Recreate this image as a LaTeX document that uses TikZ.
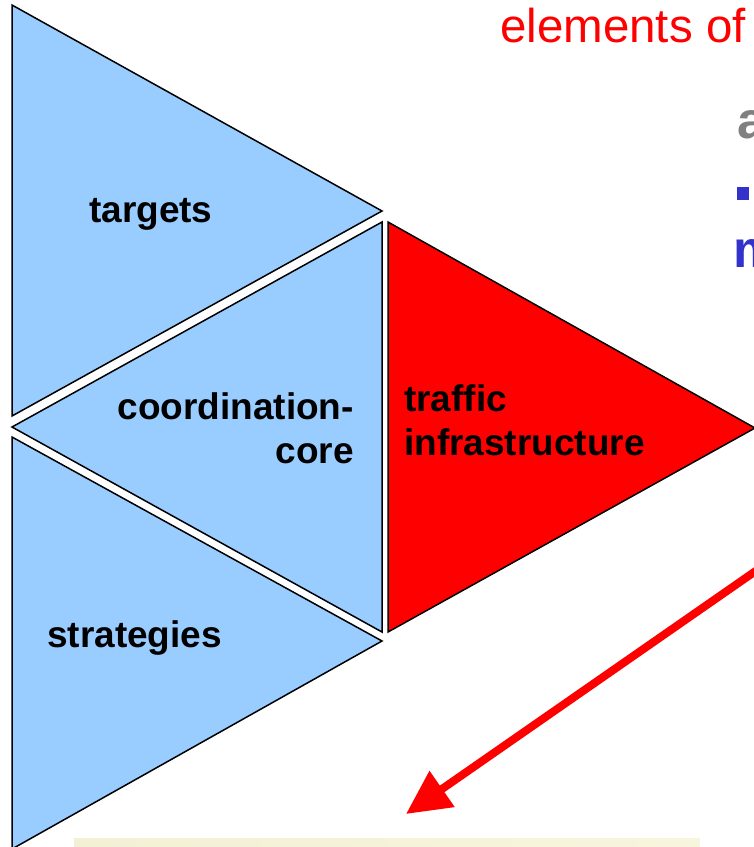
\documentclass[tikz,border=0pt]{standalone}
\usepackage{fontspec}
\setmainfont{Liberation Sans}
\usetikzlibrary{arrows.meta}
\definecolor{triblue}{RGB}{153,204,255}
\definecolor{trired}{RGB}{255,0,0}
\definecolor{bulletblue}{RGB}{51,51,204}
\definecolor{headgrey}{RGB}{128,128,128}
\definecolor{cream}{RGB}{248,245,222}
\definecolor{creamdark}{RGB}{243,240,214}
\begin{document}
\begin{tikzpicture}[x=1pt,y=-1pt,
  tri/.style={draw=black,line width=1.5pt,line join=miter,miter limit=20},
  lbl/.style={font=\bfseries\fontsize{37}{44}\selectfont,inner sep=0pt,text=black},
  bigbold/.style={font=\bfseries\fontsize{52}{60}\selectfont,inner sep=0pt},
  titletext/.style={font=\fontsize{47.5}{55}\selectfont,inner sep=0pt,text=trired},
  bigarrow/.style={draw=trired,line width=8pt,-{Triangle[length=44pt 0 0,width=42pt 0 0]}}]
\useasboundingbox (0,0) rectangle (754,847);
\begin{scope}
\clip (0,0) rectangle (754,847);
% cream box at bottom
\fill[left color=creamdark,right color=cream] (74,838) rectangle (700,852);
% triangles
\filldraw[tri,fill=triblue] (12,5) -- (382,211) -- (12,416) -- cycle;
\filldraw[tri,fill=triblue] (382,222) -- (382,632) -- (12,427) -- cycle;
\filldraw[tri,fill=triblue] (12,437) -- (382,641) -- (12,849) -- cycle;
\filldraw[tri,fill=trired] (388,222) -- (755,428) -- (388,632) -- cycle;
% labels
\node[lbl,anchor=base west] (targets) at (89,222) {targets};
\node[lbl,anchor=base east] (coordA) at (354,419) {coordination-};
\node[lbl,anchor=base east] (coordB) at (354,463) {core};
\node[lbl,anchor=base west] (trafficA) at (404,411) {traffic};
\node[lbl,anchor=base west] (trafficB) at (404,455) {infrastructure};
\node[lbl,anchor=base west] (strategies) at (47,647) {strategies};
% text at top right
\node[titletext,anchor=base west] (title) at (500,42) {elements of};
\node[bigbold,text=headgrey,anchor=base west] (heading) at (737,138) {a};
\node[fill=bulletblue,minimum width=12pt,minimum height=13pt,inner sep=0pt] (bullet) at (743,193.5) {};
\node[bigbold,text=bulletblue,anchor=base west] (subline) at (733,267) {m};
% arrow
\coordinate (arrS) at (760,568);
\coordinate (arrE) at (406,814);
\draw[bigarrow] (arrS) -- (arrE);
\end{scope}
\end{tikzpicture}
\end{document}
